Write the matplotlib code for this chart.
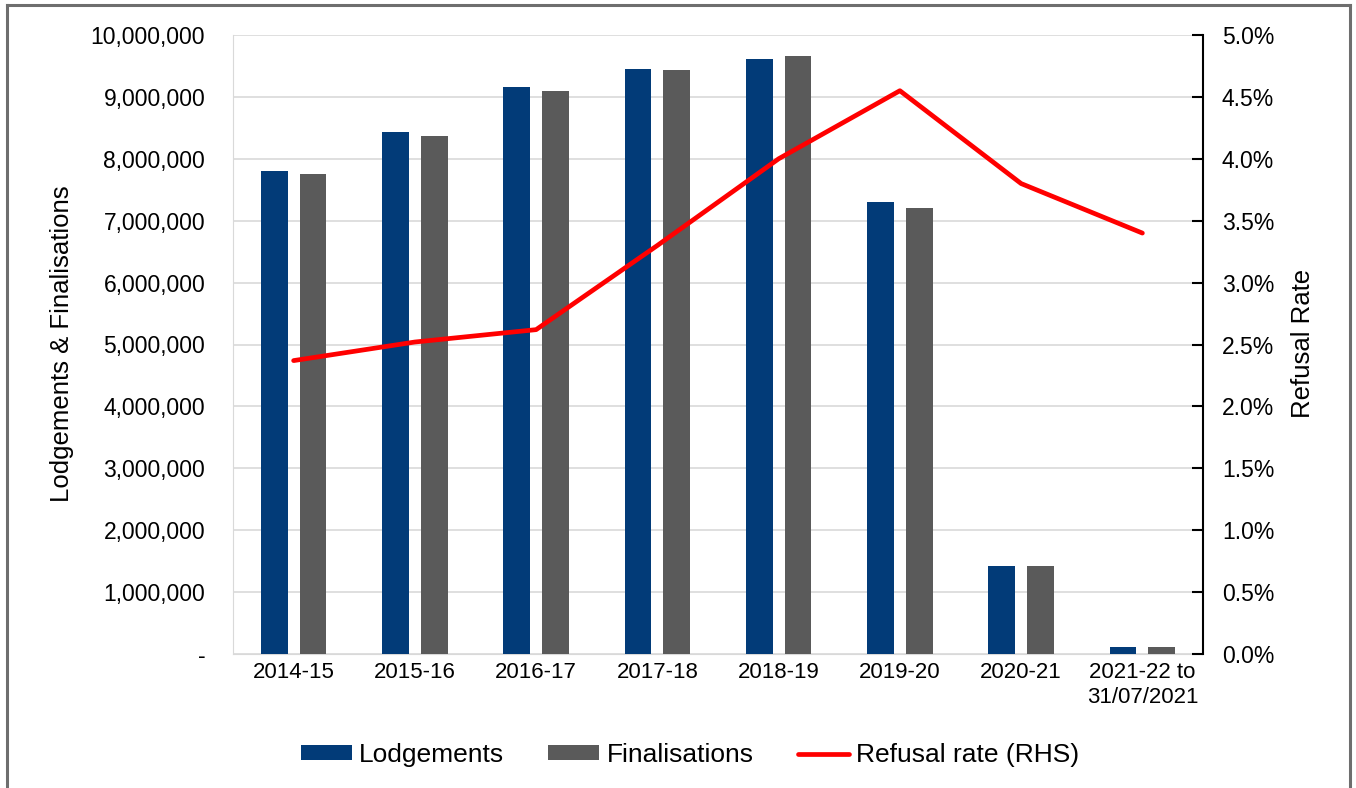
import numpy as np
import matplotlib.pyplot as plt
from matplotlib.ticker import FuncFormatter
from matplotlib.lines import Line2D

plt.rcParams['font.family'] = ['Liberation Sans', 'DejaVu Sans']

# donnees
annees = ["2014-15", "2015-16", "2016-17", "2017-18", "2018-19", "2019-20", "2020-21", "2021-22 to\n31/07/2021"]
lodgements = [7810000, 8430000, 9160000, 9450000, 9620000, 7300000, 1420000, 120000]
finalisations = [7760000, 8370000, 9100000, 9430000, 9660000, 7210000, 1420000, 120000]
refus = [0.0237, 0.0252, 0.0262, 0.0330, 0.0400, 0.0455, 0.0380, 0.0340]

bleu = "#023B78"
gris = "#5A5A5A"

W, H = 1356, 788
fig = plt.figure(figsize=(W / 100, H / 100), dpi=100)
ax = fig.add_axes([233 / W, 1 - 654 / H, 970 / W, 619 / H])
ax2 = ax.twinx()

x = np.arange(len(annees))
larg = 0.22
ax.bar(x - 0.16, lodgements, larg, color=bleu, label="Lodgements", zorder=3)
ax.bar(x + 0.16, finalisations, larg, color=gris, label="Finalisations", zorder=3)
ax2.plot(x, refus, color="#FF0000", lw=3.4, solid_capstyle="round", solid_joinstyle="round",
         label="Refusal rate (RHS)")

ax.set_xlim(-0.5, len(annees) - 0.5)
ax.set_ylim(0, 10000000)
ax.set_yticks(np.arange(0, 10000001, 1000000))
ax.yaxis.set_major_formatter(FuncFormatter(lambda v, p: "-" if v == 0 else "{:,.0f}".format(v)))
ax.grid(axis="y", color="#D9D9D9", lw=1.2, zorder=0)
ax.set_axisbelow(True)
ax.tick_params(axis="y", length=0, pad=20, labelsize=16.5)
ax.tick_params(axis="x", length=0, pad=6, labelsize=16)
ax.set_xticks(x)
ax.set_xticklabels(annees)
for s in ["top", "right"]:
    ax.spines[s].set_visible(False)
ax.spines["left"].set_color("#D9D9D9")
ax.spines["bottom"].set_color("#D9D9D9")

ax2.set_ylim(0, 0.05)
ax2.set_yticks(np.arange(0, 0.0501, 0.005))
ax2.yaxis.set_major_formatter(FuncFormatter(lambda v, p: "{:.1f}%".format(v * 100)))
ax2.tick_params(axis="y", direction="in", length=8, width=1.5, pad=13.5, labelsize=16.5)
for s in ["top", "left", "bottom"]:
    ax2.spines[s].set_visible(False)
ax2.spines["right"].set_linewidth(1.5)

# titres des axes
fig.text(62 / W, 1 - 344 / H, "Lodgements & Finalisations", rotation=90, ha="center", va="center", fontsize=18.5)
fig.text(1303 / W, 1 - 343 / H, "Refusal Rate", rotation=90, ha="center", va="center", fontsize=18.5)

h1, l1 = ax.get_legend_handles_labels()
h2, l2 = ax2.get_legend_handles_labels()
fig.legend(h1 + h2, l1 + l2, loc="center", bbox_to_anchor=(690 / W, 1 - 755 / H), ncol=3,
           frameon=False, fontsize=19, handlelength=1.93, handleheight=0.49, columnspacing=1.67,
           handletextpad=0.27)

# cadre exterieur (gauche, haut, droite)
cadre = dict(color="#6E6E6E", lw=2.2, transform=fig.transFigure)
fig.add_artist(Line2D([7 / W, 7 / W], [0, 1 - 5 / H], **cadre))
fig.add_artist(Line2D([7 / W, 1350 / W], [1 - 5 / H, 1 - 5 / H], **cadre))
fig.add_artist(Line2D([1350 / W, 1350 / W], [0, 1 - 5 / H], **cadre))

fig.savefig("out.png", dpi=100)
